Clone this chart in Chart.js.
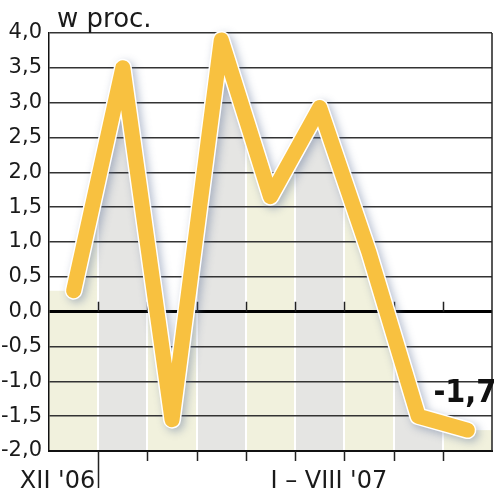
<!DOCTYPE html>
<html>
<head>
<meta charset="utf-8">
<script src="https://cdn.jsdelivr.net/npm/chart.js@4"></script>
<style>
  html, body { margin: 0; padding: 0; background: #fff; }
  #wrap { width: 500px; height: 495px; }
</style>
</head>
<body>
<div id="wrap"><canvas id="wykres"></canvas></div>
<script>
// Dane (XII '06 - VIII '07)
const miesiace = ['XII', 'I', 'II', 'III', 'IV', 'V', 'VI', 'VII', 'VIII'];
const wartosci = [0.3, 3.5, -1.55, 3.9, 1.65, 2.93, 0.85, -1.5, -1.7];
const etykietyX = ["XII '06", "I \u2013 VIII '07"];
const tytul = 'w proc.';

const zolty = '#f8c140';
const kolumnyKolory = ['#f1f1dd', '#e5e5e3'];

function przecinek(v) {
    return v.toFixed(1).replace('.', ',');
}

// wypelnienie w pionowe pasy (kolumny) z bialymi przerwami
function tloKolumn(context) {
    const chart = context.chart;
    const area = chart.chartArea;
    if (!area) return kolumnyKolory[0];
    const g = chart.ctx.createLinearGradient(area.left, 0, area.right, 0);
    const n = miesiace.length;
    const w = area.right - area.left;
    const sep = 1 / w;
    for (let i = 0; i < n; i++) {
        const a = i / n, b = (i + 1) / n;
        const c = kolumnyKolory[i % 2];
        g.addColorStop(Math.max(0, a + (i > 0 ? sep : 0)), c);
        g.addColorStop(Math.min(1, b - (i < n - 1 ? sep : 0)), c);
        if (i < n - 1) {
            g.addColorStop(b - sep * 0.99, '#ffffff');
            g.addColorStop(b + sep * 0.99, '#ffffff');
        }
    }
    return g;
}

const dodatki = {
    id: 'dodatki',
    beforeDraw(chart) {
        // dopelnienie tla na brzegach (przed pierwszym i za ostatnim punktem)
        const ctx = chart.ctx;
        const area = chart.chartArea;
        const y = chart.scales.y;
        const meta = chart.getDatasetMeta(0);
        if (!meta.data.length) return;
        const p0 = meta.data[0];
        const pn = meta.data[meta.data.length - 1];
        ctx.save();
        ctx.fillStyle = tloKolumn({ chart });
        ctx.fillRect(area.left, p0.y, p0.x - area.left + 1, area.bottom - p0.y);
        ctx.fillRect(pn.x - 1, pn.y, area.right - pn.x + 1, area.bottom - pn.y);
        ctx.restore();
    },
    beforeDatasetDraw(chart, args) {
        if (args.index === 1) {
            const ctx = chart.ctx;
            ctx.save();
            ctx.shadowColor = 'rgba(90, 110, 150, 0.45)';
            ctx.shadowBlur = 9;
            ctx.shadowOffsetX = 3;
            ctx.shadowOffsetY = 3;
        }
    },
    afterDatasetDraw(chart, args) {
        if (args.index === 1) chart.ctx.restore();
    },
    beforeDatasetsDraw(chart) {
        const ctx = chart.ctx;
        const area = chart.chartArea;
        const x = chart.scales.x;
        const y0 = chart.scales.y.getPixelForValue(0);
        ctx.save();
        ctx.strokeStyle = '#222';
        ctx.lineWidth = 1.5;
        ctx.beginPath();
        // prawa ramka
        ctx.moveTo(area.right, area.top);
        ctx.lineTo(area.right, area.bottom);
        for (let i = 1; i < miesiace.length; i++) {
            const px = Math.round((x.getPixelForValue(i - 1) + x.getPixelForValue(i)) / 2) + 0.5;
            ctx.moveTo(px, y0);
            ctx.lineTo(px, y0 - 10);
            ctx.moveTo(px, area.bottom);
            ctx.lineTo(px, area.bottom + (i === 1 ? 37 : 10));
        }
        ctx.stroke();
        ctx.restore();
    },
    afterDraw(chart) {
        const ctx = chart.ctx;
        const x = chart.scales.x;
        ctx.save();
        ctx.fillStyle = '#1a1a1a';
        ctx.textBaseline = 'alphabetic';
        ctx.font = '26px "DejaVu Sans"';
        ctx.textAlign = 'left';
        ctx.fillText(tytul, 57, 27);

        ctx.font = '24px "DejaVu Sans"';
        const b1 = (x.getPixelForValue(0) + x.getPixelForValue(1)) / 2;
        ctx.textAlign = 'right';
        ctx.fillText(etykietyX[0], b1 - 3, 488);
        ctx.textAlign = 'left';
        ctx.fillText(etykietyX[1], x.getPixelForValue(4), 488);

        const meta = chart.getDatasetMeta(2);
        const ost = meta.data[meta.data.length - 1];
        ctx.font = 'bold 32px "DejaVu Sans Condensed", "DejaVu Sans"';
        ctx.fillStyle = '#111';
        ctx.fillText(przecinek(wartosci[wartosci.length - 1]), ost.x - 34, ost.y - 28);
        ctx.restore();
    }
};

new Chart(document.getElementById('wykres'), {
    type: 'line',
    data: {
        labels: miesiace,
        datasets: [
            {
                data: wartosci,
                borderWidth: 0,
                pointRadius: 0,
                fill: 'start',
                backgroundColor: tloKolumn,
                order: 3
            },
            {
                data: wartosci,
                borderColor: '#ffffff',
                borderWidth: 18,
                borderCapStyle: 'round',
                borderJoinStyle: 'round',
                pointRadius: 0,
                fill: false,
                clip: false,
                order: 2
            },
            {
                data: wartosci,
                borderColor: zolty,
                borderWidth: 15,
                borderCapStyle: 'round',
                borderJoinStyle: 'round',
                pointRadius: 0,
                fill: false,
                clip: false,
                order: 1
            }
        ]
    },
    options: {
        responsive: true,
        maintainAspectRatio: false,
        animation: false,
        layout: { padding: { left: 0, right: 8, top: 33, bottom: 0 } },
        scales: {
            x: {
                offset: true,
                grid: { display: false },
                border: { display: true, color: '#111', width: 2 },
                ticks: { display: false },
                afterFit: s => { s.height = 44; }
            },
            y: {
                min: -2,
                max: 4,
                ticks: {
                    stepSize: 0.5,
                    padding: 7,
                    color: '#1a1a1a',
                    font: { family: 'DejaVu Sans', size: 21 },
                    callback: v => przecinek(v)
                },
                grid: {
                    drawTicks: false,
                    color: c => (c.tick && c.tick.value === 0) ? '#000' : '#333',
                    lineWidth: c => (c.tick && c.tick.value === 0) ? 3 : 1.5
                },
                border: { display: true, color: '#111', width: 1.5 },
                afterFit: s => { s.width = 49; }
            }
        },
        plugins: {
            legend: { display: false },
            tooltip: { enabled: false },
            filler: { drawTime: 'beforeDraw' }
        }
    },
    plugins: [dodatki]
});
</script>
</body>
</html>
